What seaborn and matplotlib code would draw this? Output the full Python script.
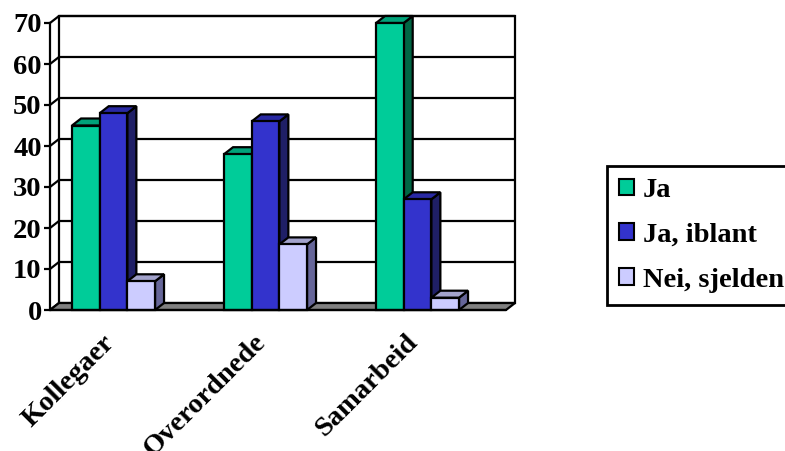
import matplotlib
matplotlib.use("Agg")
import matplotlib.pyplot as plt
from matplotlib.patches import Polygon, Patch
import matplotlib.transforms as mtransforms
import seaborn as sns
import pandas as pd

categories = ["Kollegaer", "Overordnede", "Samarbeid"]
series = ["Ja", "Ja, iblant", "Nei, sjelden"]
ja = [45, 38, 70]
ja_iblant = [48, 46, 27]
nei_sjelden = [7, 16, 3]
yticks = [0, 10, 20, 30, 40, 50, 60, 70]

front_colors = ["#00CC99", "#3333CC", "#CCCCFF"]
top_colors = ["#00A37A", "#2929A3", "#A3A3CC"]
side_colors = ["#006644", "#1F1F66", "#666699"]

df = pd.DataFrame({
    "kategori": categories * 3,
    "serie": [s for s in series for _ in categories],
    "verdi": ja + ja_iblant + nei_sjelden,
})

sns.set_style("white")
plt.rcParams["font.family"] = ["Liberation Serif", "DejaVu Serif"]
plt.rcParams["font.weight"] = "bold"
for key in ["text.color", "axes.labelcolor", "xtick.color", "ytick.color", "axes.edgecolor"]:
    plt.rcParams[key] = "black"

FS = 20.5
W, H = 785, 451
fig = plt.figure(figsize=(W / 100, H / 100), dpi=100)
ax = fig.add_axes([50 / W, (H - 310) / H, 456 / W, 287 / H])

sns.barplot(data=df, x="kategori", y="verdi", hue="serie", order=categories,
            hue_order=series, palette=front_colors, width=0.546, edgecolor="black",
            linewidth=1.6, legend=False, ax=ax, saturation=1)

# the box floor starts a little right of the first category slot
x0, x1 = -0.418, 2.582
ax.set_xlim(x0, x1)
ax.set_ylim(0, 70)
ax.set_autoscale_on(False)

# depth of the pseudo-3D box, in data units (about 9 px right, 7 px up)
dx = 9 / (456 / 3)
dy = 7 / (287 / 70)
lw = 1.6

# back wall with gridlines
ax.add_patch(Polygon([(x0 + dx, dy), (x1 + dx, dy), (x1 + dx, 70 + dy), (x0 + dx, 70 + dy)],
                     closed=True, facecolor="white", edgecolor="black", lw=lw,
                     clip_on=False, zorder=0.5))
for v in yticks[1:]:
    ax.plot([x0, x0 + dx, x1 + dx], [v, v + dy, v + dy], color="black", lw=lw,
            clip_on=False, zorder=0.6, solid_capstyle="butt")
ax.plot([x0, x0 + dx], [0, dy], color="black", lw=lw, clip_on=False, zorder=0.6)

# floor
ax.add_patch(Polygon([(x0, 0), (x1, 0), (x1 + dx, dy), (x0 + dx, dy)], closed=True,
                     facecolor="#808080", edgecolor="black", lw=lw, clip_on=False, zorder=0.7))

bars = [p for p in ax.patches
        if isinstance(p, matplotlib.patches.Rectangle) and 0 < p.get_width() < 1]
z = 2
for p in sorted(bars, key=lambda b: b.get_x()):
    bx, bw, bh = p.get_x(), p.get_width(), p.get_height()
    k = front_colors.index(matplotlib.colors.to_hex(p.get_facecolor()).upper())
    side = Polygon([(bx + bw, 0), (bx + bw + dx, dy), (bx + bw + dx, bh + dy), (bx + bw, bh)],
                   closed=True, facecolor=side_colors[k], edgecolor="black", lw=lw,
                   clip_on=False, zorder=z)
    top = Polygon([(bx, bh), (bx + dx, bh + dy), (bx + bw + dx, bh + dy), (bx + bw, bh)],
                  closed=True, facecolor=top_colors[k], edgecolor="black", lw=lw,
                  clip_on=False, zorder=z)
    ax.add_patch(side)
    ax.add_patch(top)
    p.set_zorder(z + 0.5)
    p.set_clip_on(False)
    z += 1

ax.plot([x0, x1], [0, 0], color="black", lw=lw, clip_on=False, zorder=z)

for s in ["top", "right", "bottom"]:
    ax.spines[s].set_visible(False)
ax.spines["left"].set_linewidth(lw)
ax.spines["left"].set_zorder(z)

ax.set_yticks(yticks)
ax.set_yticklabels([str(v) for v in yticks], fontsize=FS, fontweight="bold")
ax.tick_params(axis="y", direction="out", length=4, width=lw, pad=2, left=True)
ax.tick_params(axis="x", length=0)
ax.set_xticks(range(len(categories)))
ax.set_xticklabels(categories, fontsize=FS, fontweight="bold", rotation=45,
                   ha="right", va="top", rotation_mode="anchor")
shift = mtransforms.ScaledTranslation(-0.12, -0.15, fig.dpi_scale_trans)
for lab in ax.get_xticklabels():
    lab.set_transform(lab.get_transform() + shift)
ax.set_xlabel("")
ax.set_ylabel("")
ax.grid(False)

handles = [Patch(facecolor=c, edgecolor="black", lw=1.5) for c in front_colors]
leg = fig.legend(handles, series, loc="upper left", bbox_to_anchor=(607 / W, (H - 166) / H),
                 prop={"family": "Liberation Serif", "weight": "bold", "size": FS},
                 frameon=True, fancybox=False, framealpha=1, handlelength=0.52,
                 handleheight=0.52, handletextpad=0.33, labelspacing=0.7,
                 borderpad=0.42, borderaxespad=0)
leg.get_frame().set_edgecolor("black")
leg.get_frame().set_linewidth(2)

fig.savefig("out.png", dpi=100)
